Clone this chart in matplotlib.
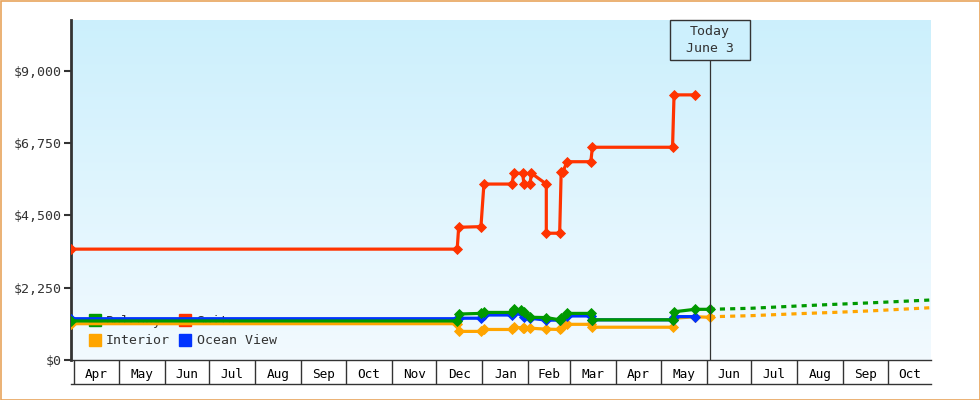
import numpy as np
import pandas as pd
import matplotlib
matplotlib.use("Agg")
import matplotlib.pyplot as plt
import matplotlib.dates as mdates
from matplotlib.lines import Line2D
from matplotlib.patches import Rectangle

plt.rcParams['font.family'] = ['DejaVu Sans Mono']

# ---------------- data ----------------
suite_dates = ["2022-03-30", "2022-12-15", "2022-12-16", "2022-12-31", "2023-01-02",
               "2023-01-21", "2023-01-22", "2023-01-28", "2023-01-29", "2023-02-02",
               "2023-02-03", "2023-02-13", "2023-02-13", "2023-02-22", "2023-02-23",
               "2023-02-24", "2023-02-27", "2023-03-15", "2023-03-16", "2023-05-09",
               "2023-05-10", "2023-05-24"]
suite_vals = [3450, 3450, 4130, 4150, 5475,
              5475, 5810, 5810, 5475, 5475,
              5810, 5475, 3945, 3945, 5840,
              5840, 6170, 6170, 6620, 6620,
              8250, 8250]

balcony_dates = ["2022-03-30", "2022-12-15", "2022-12-16", "2022-12-31", "2023-01-02",
                 "2023-01-21", "2023-01-22", "2023-01-27", "2023-01-29", "2023-02-02",
                 "2023-02-13", "2023-02-22", "2023-02-23", "2023-02-27", "2023-03-15",
                 "2023-03-16", "2023-05-09", "2023-05-10", "2023-05-24", "2023-06-03"]
balcony_vals = [1215, 1215, 1430, 1450, 1480,
                1480, 1600, 1550, 1500, 1330,
                1320, 1250, 1300, 1450, 1450,
                1250, 1250, 1500, 1577, 1577]

ocean_dates = ["2022-03-30", "2022-12-15", "2022-12-16", "2022-12-31", "2023-01-02",
               "2023-01-21", "2023-01-22", "2023-01-29", "2023-02-02", "2023-02-13",
               "2023-02-22", "2023-02-27", "2023-03-15", "2023-03-16", "2023-05-09",
               "2023-05-10", "2023-05-24"]
ocean_vals = [1285, 1285, 1300, 1300, 1400,
              1400, 1500, 1350, 1300, 1240,
              1240, 1370, 1370, 1250, 1250,
              1350, 1350]

interior_dates = ["2022-03-30", "2022-12-15", "2022-12-16", "2022-12-31", "2023-01-02",
                  "2023-01-21", "2023-01-22", "2023-01-28", "2023-01-29", "2023-02-02",
                  "2023-02-13", "2023-02-22", "2023-02-23", "2023-02-27", "2023-03-15",
                  "2023-03-16", "2023-05-09", "2023-05-10", "2023-05-24", "2023-06-03"]
interior_vals = [1130, 1130, 890, 890, 950,
                 950, 1020, 1000, 1010, 990,
                 960, 950, 990, 1110, 1110,
                 1020, 1020, 1300, 1345, 1330]

# projections after today
balcony_proj_dates = ["2023-06-03", "2023-07-01", "2023-08-01", "2023-08-25", "2023-09-20", "2023-10-31"]
balcony_proj_vals = [1577, 1610, 1680, 1730, 1780, 1870]
interior_proj_dates = ["2023-06-03", "2023-07-01", "2023-08-01", "2023-08-25", "2023-09-20", "2023-10-31"]
interior_proj_vals = [1345, 1380, 1440, 1480, 1530, 1630]

month_labels = ["Apr", "May", "Jun", "Jul", "Aug", "Sep", "Oct", "Nov", "Dec",
                "Jan", "Feb", "Mar", "Apr", "May", "Jun", "Jul", "Aug", "Sep", "Oct"]
y_ticks = [0, 2250, 4500, 6750, 9000]
today_date = "2023-06-03"
today_text = "Today\nJune 3"

# ---------------- styling ----------------
C_SUITE = "#ff3300"
C_BAL = "#009900"
C_OCEAN = "#0033ff"
C_INT = "#ffa500"
C_DARK = "#333333"

fig = plt.figure(figsize=(9.8, 4.0), dpi=100)
fig.patch.set_facecolor("white")
W, H = 980, 400
AX_W, AX_H = 931 - 71, 360 - 20
ax = fig.add_axes([71 / W, 1 - 360 / H, AX_W / W, AX_H / H])

x0 = mdates.date2num(pd.Timestamp("2022-03-30"))
x1 = mdates.date2num(pd.Timestamp("2023-10-30"))
y0, y1 = 0, 10580
ax.set_xlim(x0, x1)
ax.set_ylim(y0, y1)

# gradient background
grad = np.linspace(0, 1, 256).reshape(-1, 1)
top = np.array([0.80, 0.94, 0.99])
bot = np.array([0.95, 0.98, 1.0])
img = bot[None, None, :] * (1 - grad[:, :, None]) + top[None, None, :] * grad[:, :, None]
ax.imshow(img, extent=[x0, x1, y0, y1], origin="lower", aspect="auto", zorder=0)
ax.set_facecolor("white")


def to_num(ds):
    return mdates.date2num(pd.to_datetime(ds))


lw = 2.3
ms = 5.6
mk = dict(marker="D", ms=ms, mew=0.6)
ax.plot(to_num(interior_dates), interior_vals, color=C_INT, lw=lw, zorder=3, **mk)
ax.plot(to_num(ocean_dates), ocean_vals, color=C_OCEAN, lw=lw, zorder=3, **mk)
ax.plot(to_num(balcony_dates), balcony_vals, color=C_BAL, lw=lw, zorder=4, **mk)
ax.plot(to_num(suite_dates), suite_vals, color=C_SUITE, lw=lw, zorder=4, **mk)

dash = (0, (1.6, 1.6))
ax.plot(to_num(balcony_proj_dates), balcony_proj_vals, color=C_BAL, lw=lw, ls=dash, zorder=3)
ax.plot(to_num(interior_proj_dates), interior_proj_vals, color=C_INT, lw=lw, ls=dash, zorder=3)

# today line and box
tx = mdates.date2num(pd.Timestamp(today_date))
box_h = 40 / AX_H
bt = ax.get_xaxis_transform()
ax.plot([tx, tx], [0, 1 - box_h], transform=bt, color=C_DARK, lw=0.9, zorder=5)
days_per_px = (x1 - x0) / AX_W
ax.add_patch(Rectangle((tx - 40 * days_per_px, 1 - box_h), 80 * days_per_px, box_h,
                       transform=bt, fc="#cdf0fd", ec=C_DARK, lw=1.0, zorder=6, clip_on=False))
ax.text(tx, 1 - box_h / 2, today_text, transform=bt, ha="center", va="center", fontsize=9.5,
        color=C_DARK, linespacing=1.45, zorder=7)

# legend (drawn beneath the lines)
handles = [Line2D([], [], ls="none", marker="s", ms=8, color=C_BAL, label="Balcony"),
           Line2D([], [], ls="none", marker="s", ms=8, color=C_INT, label="Interior"),
           Line2D([], [], ls="none", marker="s", ms=8, color=C_SUITE, label="Suite"),
           Line2D([], [], ls="none", marker="s", ms=8, color=C_OCEAN, label="Ocean View")]
leg = ax.legend(handles=handles, ncol=2, loc="lower left", bbox_to_anchor=(0.014, 0.014),
                frameon=False, fontsize=9.5, handlelength=0.6, handletextpad=0.55,
                columnspacing=0.85, labelspacing=0.5, borderaxespad=0.2)
for t in leg.get_texts():
    t.set_color(C_DARK)
leg.set_zorder(2)

# y axis
ax.set_yticks(y_ticks)
ax.set_yticklabels([f"${v:,}" for v in y_ticks])
ax.tick_params(axis="y", direction="out", length=5, width=1.5, color=C_DARK,
               labelsize=9.5, labelcolor=C_DARK, pad=2)

# x axis: month boxes
bounds = pd.date_range("2022-04-01", "2023-11-01", freq="MS")
bnum = mdates.date2num(bounds)
mids = (bnum[:-1] + bnum[1:]) / 2
mids[-1] = min(mids[-1], (bnum[-2] + x1) / 2)
ax.set_xticks(bnum[:-1])
ax.set_xticklabels([])
ax.set_xticks(mids, minor=True)
ax.set_xticklabels(month_labels, minor=True)
ax.tick_params(axis="x", which="major", direction="out", length=17.5, width=1.0, color=C_DARK)
ax.tick_params(axis="x", which="minor", length=0, labelsize=9.2, labelcolor="black", pad=6)

for s in ["top", "right"]:
    ax.spines[s].set_visible(False)
ax.spines["left"].set_linewidth(2.0)
ax.spines["left"].set_color(C_DARK)
ax.spines["bottom"].set_linewidth(1.0)
ax.spines["bottom"].set_color(C_DARK)

# bottom line under month boxes
ax.plot([0, 1], [-24 / AX_H, -24 / AX_H], transform=ax.transAxes, color=C_DARK, lw=1.0, clip_on=False)

# figure border
fig.add_artist(Rectangle((0.5 / W, 0.5 / H), 1 - 1 / W, 1 - 1 / H, transform=fig.transFigure,
                         fill=False, ec="#e8a45c", lw=1.2))

fig.savefig("out.png", dpi=100)
